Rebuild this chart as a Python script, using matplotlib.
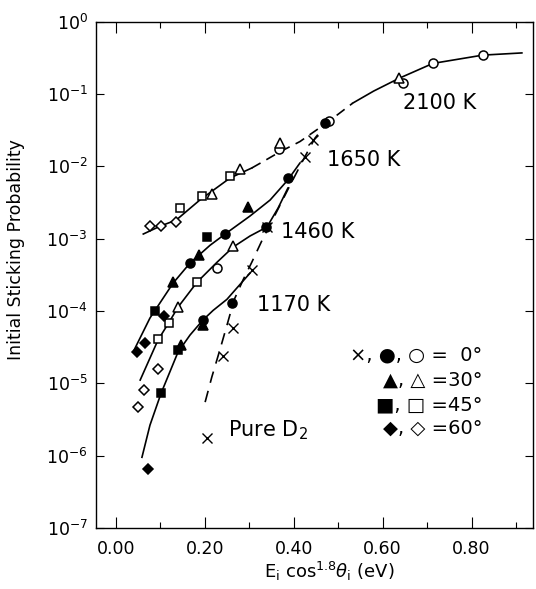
import numpy as np
import matplotlib
matplotlib.use("Agg")
import matplotlib.pyplot as plt
from matplotlib.ticker import FixedLocator, FuncFormatter, LogLocator, NullLocator

# ---------------- data ----------------
# curves
c2100_solid_a_x = [0.062, 0.100, 0.136, 0.189, 0.257, 0.306]
c2100_solid_a_y = [1.16e-3, 1.49e-3, 1.81e-3, 3.42e-3, 6.9e-3, 9.5e-3]
c2100_dash_x = [0.306, 0.340, 0.370, 0.414, 0.477, 0.533]
c2100_dash_y = [9.5e-3, 1.25e-2, 1.6e-2, 2.2e-2, 4.1e-2, 7.5e-2]
c2100_solid_b_x = [0.533, 0.580, 0.637, 0.713, 0.825, 0.913]
c2100_solid_b_y = [7.5e-2, 1.10e-1, 1.65e-1, 2.65e-1, 3.45e-1, 3.70e-1]

c1650_x = [0.039, 0.077, 0.129, 0.167, 0.212, 0.246, 0.302, 0.347, 0.387, 0.414]
c1650_y = [2.7e-5, 8.0e-5, 2.43e-4, 4.6e-4, 8.1e-4, 1.16e-3, 2.06e-3, 3.42e-3, 6.5e-3, 1.11e-2]

c1460_x = [0.055, 0.095, 0.120, 0.140, 0.183, 0.228, 0.264, 0.302, 0.340, 0.365, 0.387]
c1460_y = [1.11e-5, 3.96e-5, 7.0e-5, 1.13e-4, 2.51e-4, 4.74e-4, 7.66e-4, 1.09e-3, 1.45e-3, 2.65e-3, 5.0e-3]

c1170_x = [0.059, 0.077, 0.102, 0.140, 0.167, 0.196, 0.219, 0.250, 0.268, 0.302]
c1170_y = [9.5e-7, 2.64e-6, 7.3e-6, 2.7e-5, 4.65e-5, 7.5e-5, 1.02e-4, 1.45e-4, 1.94e-4, 3.35e-4]

pure_x = [0.201, 0.216, 0.234, 0.252, 0.266, 0.286, 0.306, 0.329, 0.358, 0.392, 0.425, 0.448, 0.477]
pure_y = [5.5e-6, 1.22e-5, 2.88e-5, 7.0e-5, 1.42e-4, 2.67e-4, 4.74e-4, 9.5e-4, 2.12e-3, 5.5e-3, 1.35e-2, 2.46e-2, 4.1e-2]

# markers
open_circle_x = [0.228, 0.367, 0.480, 0.646, 0.713, 0.825]
open_circle_y = [3.9e-4, 1.73e-2, 4.2e-2, 0.142, 0.268, 0.346]
filled_circle_x = [0.167, 0.246, 0.387, 0.196, 0.261, 0.338, 0.470]
filled_circle_y = [4.6e-4, 1.16e-3, 6.9e-3, 7.5e-5, 1.29e-4, 1.45e-3, 4.0e-2]
open_tri_x = [0.216, 0.279, 0.369, 0.637, 0.140, 0.264]
open_tri_y = [4.13e-3, 9.1e-3, 2.1e-2, 0.166, 1.13e-4, 7.9e-4]
filled_tri_x = [0.297, 0.187, 0.147, 0.196, 0.129]
filled_tri_y = [2.73e-3, 5.9e-4, 3.4e-5, 6.4e-5, 2.5e-4]
open_sq_x = [0.1445, 0.194, 0.257, 0.095, 0.120, 0.183]
open_sq_y = [2.65e-3, 3.88e-3, 7.3e-3, 4.1e-5, 6.8e-5, 2.5e-4]
filled_sq_x = [0.088, 0.205, 0.102, 0.140]
filled_sq_y = [1.0e-4, 1.05e-3, 7.3e-6, 2.9e-5]
open_dia_x = [0.077, 0.102, 0.1355, 0.095, 0.064, 0.050]
open_dia_y = [1.49e-3, 1.49e-3, 1.70e-3, 1.57e-5, 8.1e-6, 4.7e-6]
filled_dia_x = [0.066, 0.048, 0.073, 0.109]
filled_dia_y = [3.6e-5, 2.7e-5, 6.5e-7, 8.5e-5]
cross_x = [0.205, 0.241, 0.264, 0.306, 0.340, 0.425, 0.443]
cross_y = [1.75e-6, 2.4e-5, 5.8e-5, 3.7e-4, 1.45e-3, 1.35e-2, 2.3e-2]

curve_labels = ["2100 K", "1650 K", "1460 K", "1170 K", "Pure D$_2$"]
curve_label_x = [0.646, 0.475, 0.372, 0.318, 0.253]
curve_label_y = [7.48e-2, 1.22e-2, 1.23e-3, 1.21e-4, 2.25e-6]

legend_rows = ["\u00d7, \u25cf, \u25cb =\u20070\u00b0", "\u25b2, \u25b3 =30\u00b0",
               "\u25a0, \u25a1 =45\u00b0", "\u25c6, \u25c7 =60\u00b0"]
legend_row_y = [2.45e-5, 1.1e-5, 5.0e-6, 2.4e-6]

x_major = [0.0, 0.2, 0.4, 0.6, 0.8]
x_minor = [0.1, 0.3, 0.5, 0.7, 0.9]

# ---------------- figure ----------------
fig = plt.figure(figsize=(5.36, 5.89), dpi=100)
ax = fig.add_axes([96/536, 61/589, 437/536, 506.3/589])
ax.set_yscale("log")
ax.set_xlim(-0.0443, 0.938)
ax.set_ylim(1e-7, 1.0)

lw = 1.2
ax.plot(c2100_solid_a_x, c2100_solid_a_y, color="black", lw=lw)
ax.plot(c2100_dash_x, c2100_dash_y, color="black", lw=lw, dashes=(6, 4))
ax.plot(c2100_solid_b_x, c2100_solid_b_y, color="black", lw=lw)
ax.plot(c1650_x, c1650_y, color="black", lw=lw)
ax.plot(c1460_x, c1460_y, color="black", lw=lw)
ax.plot(c1170_x, c1170_y, color="black", lw=lw)
ax.plot(pure_x, pure_y, color="black", lw=lw, dashes=(7, 5))

ms = 6.5
mew = 1.1
def pts(x, y, marker, filled, size=ms):
    ax.plot(x, y, linestyle="none", marker=marker, markersize=size,
            markerfacecolor="black" if filled else "white",
            markeredgecolor="black", markeredgewidth=mew, zorder=3)

pts(open_circle_x, open_circle_y, "o", False)
pts(filled_circle_x, filled_circle_y, "o", True)
pts(open_tri_x, open_tri_y, "^", False)
pts(filled_tri_x, filled_tri_y, "^", True)
pts(open_sq_x, open_sq_y, "s", False, 6)
pts(filled_sq_x, filled_sq_y, "s", True, 6)
pts(open_dia_x, open_dia_y, "D", False, 5.5)
pts(filled_dia_x, filled_dia_y, "D", True, 5.0)
ax.plot(cross_x, cross_y, linestyle="none", marker="x", markersize=6.5,
        markeredgecolor="black", markeredgewidth=1.0, zorder=3)

for t, x, y in zip(curve_labels, curve_label_x, curve_label_y):
    ax.text(x, y, t, fontsize=15, ha="left", va="center")

for t, y in zip(legend_rows, legend_row_y):
    ax.text(0.825, y, t, fontsize=14, ha="right", va="center")

# axes styling
ax.xaxis.set_major_locator(FixedLocator(x_major))
ax.xaxis.set_minor_locator(FixedLocator(x_minor))
ax.xaxis.set_major_formatter(FuncFormatter(lambda v, p: f"{v:.2f}"))
ax.yaxis.set_major_locator(LogLocator(base=10, numticks=10))
ax.yaxis.set_minor_locator(NullLocator())
ax.tick_params(axis="both", which="both", direction="in", top=True, right=True,
               labelsize=12.5, width=0.8, colors="black")
ax.tick_params(axis="x", which="major", length=8, pad=9)
ax.tick_params(axis="x", which="minor", length=4)
ax.tick_params(axis="y", which="major", length=6, pad=6)
for s in ax.spines.values():
    s.set_linewidth(1.0)

ax.set_xlabel(r"E$_\mathregular{i}$ cos$^{1.8}\theta_\mathregular{i}$ (eV)", fontsize=13)
ax.xaxis.set_label_coords(0.533, -0.085)
ax.xaxis.label.set_va("center")
ax.set_ylabel("Initial Sticking Probability", fontsize=12.5)
ax.yaxis.set_label_coords(-0.183, 0.549)
ax.yaxis.label.set_va("center")

fig.savefig("out.png", dpi=100)
